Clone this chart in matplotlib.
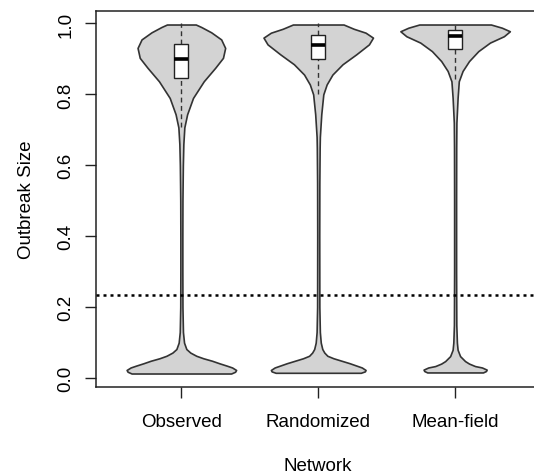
import numpy as np
import matplotlib.pyplot as plt

plt.rcParams['font.family'] = ['Liberation Sans', 'DejaVu Sans']

networks = ["Observed", "Randomized", "Mean-field"]

# violin outlines: outbreak size levels and relative density
obs_y = [0.013, 0.018, 0.023, 0.030, 0.035, 0.042, 0.049, 0.056, 0.063, 0.072,
         0.082, 0.10, 0.13, 0.20, 0.30, 0.40, 0.50, 0.60, 0.66, 0.707,
         0.744, 0.79, 0.837, 0.875, 0.903, 0.931, 0.955, 0.975, 0.990, 0.997]
obs_d = [50, 54, 55, 51, 45.8, 38, 30.8, 22, 15, 9,
         5, 2.7, 1.6, 1.1, 1.0, 1.0, 1.1, 1.5, 2.0, 3.0,
         5.8, 11.7, 22.5, 34, 41.8, 44, 40, 30, 20, 14.5]

rnd_y = [0.015, 0.019, 0.023, 0.030, 0.035, 0.042, 0.049, 0.056, 0.063, 0.072,
         0.082, 0.10, 0.13, 0.20, 0.40, 0.55, 0.65, 0.68, 0.744, 0.80,
         0.828, 0.856, 0.885, 0.913, 0.941, 0.960, 0.974, 0.985, 0.997]
rnd_d = [42, 46, 46.7, 43, 38, 31, 23, 15, 9, 6,
         4, 2.5, 1.6, 1.1, 1.0, 1.1, 1.4, 1.6, 3.0, 5.0,
         8.3, 14, 24, 37.5, 50, 54, 46.7, 35, 25]

mf_y = [0.016, 0.020, 0.024, 0.030, 0.034, 0.041, 0.048, 0.062, 0.080, 0.10,
        0.15, 0.30, 0.50, 0.65, 0.72, 0.79, 0.837, 0.866, 0.894, 0.922,
        0.946, 0.964, 0.978, 0.988, 0.997]
mf_d = [28, 31, 31.7, 27, 20, 14, 10, 5, 2.5, 1.8,
        1.2, 1.0, 1.0, 1.1, 1.3, 2.5, 3.7, 7.5, 14, 23.3,
        35, 49, 55, 47, 36]

# box plot stats: lower whisker, q1, median, q3, upper whisker
whisk_lo = [0.707, 0.800, 0.843]
q1 = [0.845, 0.900, 0.927]
med = [0.901, 0.939, 0.966]
q3 = [0.941, 0.967, 0.981]
whisk_hi = [1.0, 1.0, 1.0]

threshold = 0.235

fig = plt.figure(figsize=(5.34, 4.77), dpi=100)
ax = fig.add_axes([0.1807, 0.1866, 0.8305, 0.7889])

profiles = [(obs_y, obs_d), (rnd_y, rnd_d), (mf_y, mf_d)]
for i, (yy, dd) in enumerate(profiles):
    pos = i + 1
    yy = np.array(yy)
    half = 0.4 * np.array(dd) / max(dd)
    ax.fill_betweenx(yy, pos - half, pos + half, facecolor='#d3d3d3',
                     edgecolor='#333333', linewidth=1.2, zorder=1)
    # whiskers
    ax.plot([pos, pos], [whisk_lo[i], q1[i]], color='#333333', lw=1,
            linestyle=(0, (3.5, 2.5)), zorder=2)
    ax.plot([pos, pos], [q3[i], whisk_hi[i]], color='#333333', lw=1,
            linestyle=(0, (3.5, 2.5)), zorder=2)
    bw = 0.051
    ax.add_patch(plt.Rectangle((pos - bw, q1[i]), 2 * bw, q3[i] - q1[i],
                               facecolor='white', edgecolor='#222222',
                               lw=1, zorder=3))
    ax.plot([pos - bw, pos + bw], [med[i], med[i]], color='black', lw=2.6,
            solid_capstyle='butt', zorder=4)

ax.axhline(threshold, color='black', lw=1.8, linestyle=(0, (1.2, 1.6)), zorder=5)

ax.set_xlim(0.38, 3.62)
ax.set_ylim(-0.025, 1.036)
ax.set_xticks([1, 2, 3])
ax.set_xticklabels(networks)
ax.set_yticks([0.0, 0.2, 0.4, 0.6, 0.8, 1.0])
ax.set_yticklabels(["0.0", "0.2", "0.4", "0.6", "0.8", "1.0"], rotation=90,
                   va='center')
ax.tick_params(axis='both', length=8, width=1, labelsize=13.5, pad=8,
               color='#222222')
ax.tick_params(axis='x', pad=11)
for sp in ax.spines.values():
    sp.set_linewidth(1.1)
    sp.set_color('#222222')

ax.set_xlabel("Network", fontsize=13.5, labelpad=19)
ax.set_ylabel("Outbreak Size", fontsize=13.5, labelpad=16)

fig.savefig("out.png", dpi=100)
